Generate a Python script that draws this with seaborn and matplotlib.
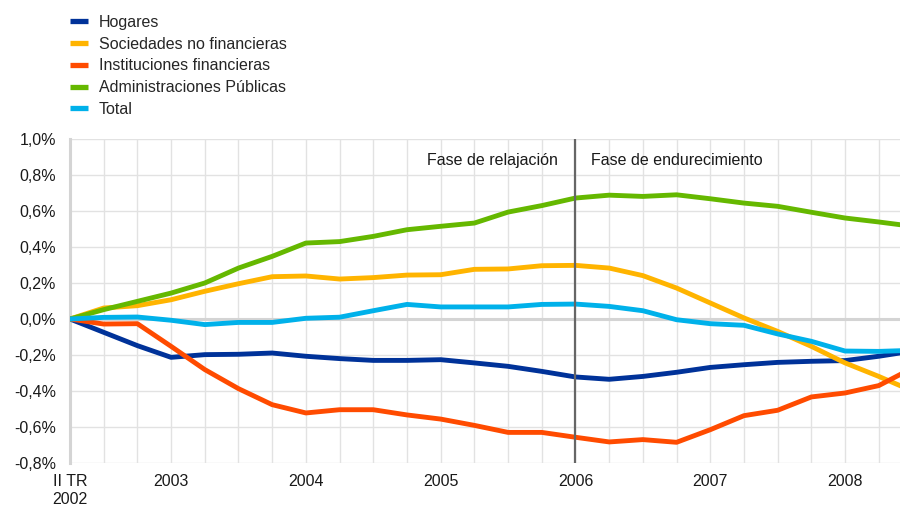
import numpy as np
import pandas as pd
import seaborn as sns
import matplotlib.pyplot as plt
from matplotlib.lines import Line2D
from matplotlib.ticker import FuncFormatter

# Quarterly series, II TR 2002 onwards (percentage points)
quarters = list(range(26))

hogares = [0.0, -0.074, -0.148, -0.213, -0.198, -0.196, -0.189, -0.207, -0.220,
           -0.230, -0.230, -0.226, -0.244, -0.263, -0.291, -0.322, -0.335,
           -0.319, -0.296, -0.269, -0.254, -0.241, -0.235, -0.231, -0.207, -0.178]
sociedades = [0.0, 0.061, 0.074, 0.107, 0.154, 0.196, 0.235, 0.239, 0.222,
              0.230, 0.244, 0.246, 0.276, 0.278, 0.296, 0.298, 0.283,
              0.241, 0.172, 0.089, 0.006, -0.069, -0.152, -0.244, -0.319, -0.400]
instituciones = [0.0, -0.028, -0.026, -0.152, -0.281, -0.387, -0.476, -0.522, -0.504,
                 -0.504, -0.533, -0.556, -0.591, -0.630, -0.630, -0.657, -0.683,
                 -0.670, -0.685, -0.615, -0.537, -0.507, -0.433, -0.411, -0.370, -0.273]
administraciones = [0.0, 0.052, 0.098, 0.144, 0.200, 0.283, 0.348, 0.422, 0.430,
                    0.459, 0.496, 0.515, 0.533, 0.594, 0.630, 0.672, 0.688,
                    0.681, 0.690, 0.668, 0.644, 0.626, 0.593, 0.561, 0.539, 0.515]
total = [0.0, 0.009, 0.011, -0.007, -0.031, -0.019, -0.019, 0.004, 0.010,
         0.046, 0.081, 0.067, 0.067, 0.067, 0.081, 0.083, 0.070,
         0.046, -0.004, -0.026, -0.035, -0.083, -0.124, -0.178, -0.180, -0.174]

series_names = ["Hogares", "Sociedades no financieras", "Instituciones financieras",
                "Administraciones Públicas", "Total"]
series_values = [hogares, sociedades, instituciones, administraciones, total]
colors = ["#003299", "#FFB400", "#FF4B00", "#65B800", "#00B1EA"]

tick_positions = [0, 3, 7, 11, 15, 19, 23]
tick_labels = ["II TR\n2002", "2003", "2004", "2005", "2006", "2007", "2008"]
phase_break = 15
phase_labels = ["Fase de relajación", "Fase de endurecimiento"]

df = pd.concat(
    [pd.DataFrame({"q": quarters, "valor": vals, "serie": name})
     for name, vals in zip(series_names, series_values)],
    ignore_index=True,
)

sns.set_theme(style="white")
plt.rcParams["font.family"] = ["Liberation Sans", "DejaVu Sans"]
FS = 11.5

fig = plt.figure(figsize=(9, 5.07), dpi=100)
ax = fig.add_axes([70 / 900, 1 - 463 / 507, 1 - 70 / 900, (463 - 139) / 507])

# grid
for q in range(0, 26):
    ax.axvline(q, color="#e2e2e2", lw=1.0, zorder=0)
for v in np.arange(-0.8, 1.01, 0.2):
    ax.axhline(v, color="#e2e2e2", lw=1.0, zorder=0)
ax.axhline(0, color="#d4d4d4", lw=2.2, zorder=0.5)

sns.lineplot(data=df, x="q", y="valor", hue="serie", hue_order=series_names,
             palette=colors, linewidth=3.5, legend=False, ax=ax, zorder=3)

ax.axvline(phase_break, color="#666666", lw=1.6, zorder=4)
ax.annotate(phase_labels[0], xy=(phase_break, 0.88), xytext=(-13, 0),
            textcoords="offset points", ha="right", va="center", fontsize=FS,
            color="#1a1a1a")
ax.annotate(phase_labels[1], xy=(phase_break, 0.88), xytext=(11, 0),
            textcoords="offset points", ha="left", va="center", fontsize=FS,
            color="#1a1a1a")

ax.set_xlim(0, 24.63)
ax.set_ylim(-0.8, 1.0)
ax.set_yticks(np.arange(-0.8, 1.01, 0.2))
ax.yaxis.set_major_formatter(FuncFormatter(lambda v, p: f"{v:.1f}%".replace(".", ",").replace("-0,0", "0,0")))
ax.set_xticks(tick_positions)
ax.set_xticklabels(tick_labels)
ax.tick_params(axis="both", length=0, labelsize=FS, colors="#1a1a1a")
ax.tick_params(axis="y", pad=10)
ax.tick_params(axis="x", pad=8)
ax.set_xlabel("")
ax.set_ylabel("")

for side in ["top", "right", "bottom"]:
    ax.spines[side].set_visible(False)
ax.spines["left"].set_color("#d4d4d4")
ax.spines["left"].set_linewidth(2.2)

handles = [Line2D([0], [0], color=c, lw=3.8, solid_capstyle="butt") for c in colors]
fig.legend(handles, series_names, loc="upper left", bbox_to_anchor=(70 / 900, 1 - 15 / 507),
           frameon=False, fontsize=FS, handlelength=1.1, handletextpad=0.7,
           labelspacing=0.42, borderaxespad=0, borderpad=0)

fig.savefig("out.png", dpi=100)
